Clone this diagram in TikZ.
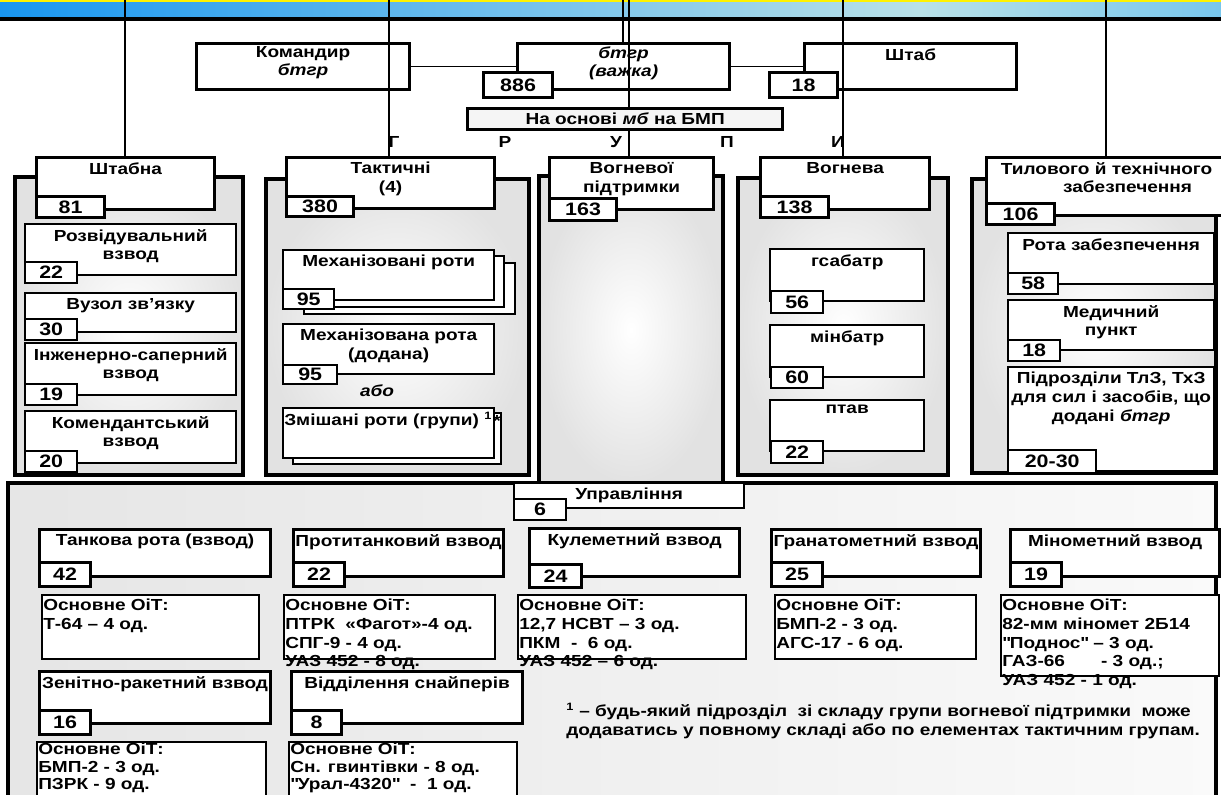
\documentclass[tikz,border=0pt]{standalone}
\usepackage{fontspec}
\setmainfont{Liberation Sans}[FakeStretch=1.19]
\newdimen\pxu \pxu=0.75pt
\definecolor{bannerA}{RGB}{25,150,240}
\definecolor{bannerB}{RGB}{185,225,232}
\definecolor{bannerC}{RGB}{120,198,236}
\definecolor{framegray}{RGB}{226,226,226}
\tikzset{
  txt/.style={font=\bfseries\fontsize{12}{14}\selectfont},
  wh/.style 2 args={minimum width=#1\pxu, minimum height=#2\pxu},
  box/.style={draw, fill=white, line width=1.8pt, anchor=north west, inner sep=0pt},
  hdr/.style={box, line width=2.4pt},
  oit/.style={box, line width=1.2pt},
  badge/.style={box, font=\bfseries\fontsize{13.5}{14}\selectfont},
  hbadge/.style={badge, line width=2.4pt},
  lbl/.style={anchor=north, align=center, inner sep=0pt, yshift=-6\pxu, txt},
  lbll/.style={anchor=north west, align=left, inner sep=0pt, xshift=2\pxu, yshift=-5\pxu, txt},
  lowlbl/.style={lbll, yshift=3\pxu, font=\bfseries\fontsize{12}{13}\selectfont},
  frame/.style={draw, line width=2.6pt, inner color=white, outer color=framegray},
  link/.style={line width=0.8pt},
}
\begin{document}
\begin{tikzpicture}[x=\pxu,y=-\pxu]
  \path[use as bounding box, clip] (0,0) rectangle (1221,794);
  \fill[white] (0,0) rectangle (1221,794);
  % banner
  \shade[left color=bannerA, right color=bannerB] (0,0) rectangle (920,17);
  \shade[left color=bannerB, right color=bannerC] (920,0) rectangle (1221,17);
  \fill[yellow] (0,0) rectangle (1221,1.5);
  \draw[line width=3pt] (0,19) -- (1221,19);

  % frames
  \path[frame] (15,177) rectangle (243,475);
  \path[frame] (266,179) rectangle (529,475);
  \path[frame] (539,176) rectangle (723,484);
  \path[frame] (738,178) rectangle (948,475);
  \path[frame] (972,179) rectangle (1216,473);
  \path[draw, line width=2.6pt, left color=black!10, right color=black!2] (8,483) rectangle (1216,810);

  % top
  \node[hdr, wh={213}{46}, label={[lbl,yshift=2\pxu]north:{Командир\\\textit{бтгр}}}] (komandyr) at (195,42) {};
  \node[hdr, wh={212}{46}, label={[lbl,yshift=2\pxu]north:{\textit{бтгр}\\\textit{(важка)}}}] (btgr) at (516,42) {};
  \node[hbadge, wh={69}{25}] (btgrN) at (482,71) {886};
  \node[hdr, wh={212}{46}, label={[lbl]north:Штаб}] (shtab) at (803,42) {};
  \node[hbadge, wh={68}{25}] (shtabN) at (768,71) {18};
  \draw[line width=1.1pt] (komandyr.east) -- (btgr.west);
  \draw[line width=1.1pt] (btgr.east) -- (shtab.west);
  \node[hdr, txt, fill=black!4, wh={315}{21}] (osnova) at (466,107) {На основі \textit{мб} на БМП};

  % group letters
  \node[txt] (grpG) at (394,142) {Г};
  \node[txt] (grpR) at (505,142) {Р};
  \node[txt] (grpU) at (616,142) {У};
  \node[txt] (grpP) at (727,142) {П};
  \node[txt] (grpY) at (838,142) {И};

  % Штабна
  \node[hdr, wh={178}{52}, label={[lbl]north:Штабна}] (shtabna) at (35,156) {};
  \node[hbadge, wh={68}{21}] (shtabnaN) at (35,195) {81};
  \node[box, wh={211}{51}, label={[lbl]north:{Розвідувальний\\взвод}}] (rozv) at (24,223) {};
  \node[badge, wh={52}{21}] (rozvN) at (24,261) {22};
  \node[box, wh={211}{39}, label={[lbl]north:Вузол зв’язку}] (vuzol) at (24,292) {};
  \node[badge, wh={52}{21}] (vuzolN) at (24,318) {30};
  \node[box, wh={211}{52}, label={[lbl]north:{Інженерно-саперний\\взвод}}] (inzh) at (24,342) {};
  \node[badge, wh={52}{21}] (inzhN) at (24,383) {19};
  \node[box, wh={211}{52}, label={[lbl]north:{Комендантський\\взвод}}] (komend) at (24,410) {};
  \node[badge, wh={52}{21}] (komendN) at (24,450) {20};

  % Тактичні
  \node[hdr, wh={208}{51}, label={[lbl]north:{Тактичні\\(4)}}] (taktychni) at (285,156) {};
  \node[hbadge, wh={67}{20}] (taktychniN) at (285,195) {380};
  \node[box, wh={211}{51}] (mech3) at (303,262) {};
  \node[box, wh={211}{51}] (mech2) at (292,255) {};
  \node[box, wh={211}{50}, label={[lbl]north:Механізовані роти}] (mech) at (282,249) {};
  \node[badge, wh={51}{20}] (mechN) at (282,288) {95};
  \node[box, wh={211}{50}, label={[lbl]north:{Механізована рота\\(додана)}}] (mechd) at (282,323) {};
  \node[badge, wh={54}{19}] (mechdN) at (282,364) {95};
  \node[txt, font=\bfseries\itshape\fontsize{12}{14}\selectfont] (abo) at (377,391) {або};
  \node[box, wh={208}{51}] (zmish2) at (292,412) {};
  \node[box, wh={211}{50}, label={[lbll]north west:Змішані роти (групи) \textsuperscript{1}}] (zmish) at (282,407) {};
  \node[txt] (zmishStar) at (497,421) {*};

  % Вогневої підтримки
  \node[hdr, wh={164}{52}, label={[lbl]north:{Вогневої\\підтримки}}] (vohnpid) at (548,156) {};
  \node[hbadge, wh={67}{22}] (vohnpidN) at (548,197) {163};

  % Вогнева
  \node[hdr, wh={169}{52}, label={[lbl]north:Вогнева}] (vohneva) at (759,156) {};
  \node[hbadge, wh={68}{21}] (vohnevaN) at (759,195) {138};
  \node[box, wh={154}{52}, label={[lbl]north:гсабатр}] (hsabatr) at (769,248) {};
  \node[badge, wh={52}{22}] (hsabatrN) at (770,290) {56};
  \node[box, wh={154}{52}, label={[lbl]north:мінбатр}] (minbatr) at (769,324) {};
  \node[badge, wh={52}{21}] (minbatrN) at (770,366) {60};
  \node[box, wh={154}{51}, label={[lbl]north:птав}] (ptav) at (769,399) {};
  \node[badge, wh={52}{22}] (ptavN) at (770,440) {22};

  % Тилового й технічного забезпечення
  \node[hdr, wh={240}{58}, label={[lbl]north:{Тилового й технічного\\\hspace*{42\pxu}забезпечення}}] (tyl) at (985,156) {};
  \node[hbadge, wh={68}{21}] (tylN) at (985,202) {106};
  \node[box, wh={206}{51}, label={[lbl]north:Рота забезпечення}] (rotazab) at (1007,232) {};
  \node[badge, wh={50}{21}] (rotazabN) at (1007,272) {58};
  \node[box, wh={206}{50}, label={[lbl]north:{Медичний\\пункт}}] (medpunkt) at (1007,299) {};
  \node[badge, wh={52}{21}] (medpunktN) at (1007,339) {18};
  \node[box, wh={206}{104}, label={[lbl]north:{Підрозділи ТлЗ, ТхЗ\\для сил і засобів, що\\додані \textit{бтгр}}}] (pidrozd) at (1007,366) {};
  \node[badge, wh={88}{23}] (pidrozdN) at (1007,449) {20-30};

  % Управління
  \node[box, txt, wh={230}{25}] (upr) at (513,482) {Управління};
  \node[badge, wh={52}{21}] (uprN) at (513,498) {6};

  % bottom units
  \node[hdr, wh={231}{47}, label={[lbl]north:Танкова рота (взвод)}] (tank) at (38,528) {};
  \node[hbadge, wh={51}{24}] (tankN) at (38,561) {42};
  \node[oit, wh={217}{64}, label={[lbll]north west:{Основне ОіТ:\\Т-64 – 4 од.}}] (tankO) at (41,594) {};

  \node[hdr, wh={210}{47}, label={[lbl]north:Протитанковий взвод}] (ptv) at (292,528) {};
  \node[hbadge, wh={51}{24}] (ptvN) at (292,561) {22};
  \node[oit, wh={211}{64}, label={[lbll]north west:{Основне ОіТ:\\ПТРК\ \ «Фагот»-4 од.\\СПГ-9 - 4 од.\\УАЗ 452 - 8 од.}}] (ptvO) at (283,594) {};

  \node[hdr, wh={210}{48}, label={[lbl]north:Кулеметний взвод}] (kulem) at (528,527) {};
  \node[hbadge, wh={52}{23}] (kulemN) at (528,563) {24};
  \node[oit, wh={228}{64}, label={[lbll]north west:{Основне ОіТ:\\12,7 НСВТ – 3 од.\\ПКМ\ \ -\ \ 6 од.\\УАЗ 452 – 6 од.}}] (kulemO) at (517,594) {};

  \node[hdr, wh={209}{47}, label={[lbl]north:Гранатометний взвод}] (hranat) at (770,528) {};
  \node[hbadge, wh={51}{24}] (hranatN) at (770,561) {25};
  \node[oit, wh={201}{64}, label={[lbll]north west:{Основне ОіТ:\\БМП-2 - 3 од.\\АГС-17 - 6 од.}}] (hranatO) at (774,594) {};

  \node[hdr, wh={209}{47}, label={[lbl]north:Мінометний взвод}] (minom) at (1009,528) {};
  \node[hbadge, wh={51}{24}] (minomN) at (1009,561) {19};
  \node[oit, wh={218}{81}, label={[lbll]north west:{Основне ОіТ:\\82-мм міномет 2Б14\\\textquotedbl Поднос\textquotedbl{} – 3 од.\\ГАЗ-66\hspace{36\pxu}- 3 од.;\\УАЗ 452 - 1 од.}}] (minomO) at (1000,594) {};

  \node[hdr, wh={231}{52}, label={[lbl]north:Зенітно-ракетний взвод}] (zenit) at (38,670) {};
  \node[hbadge, wh={51}{24}] (zenitN) at (38,709) {16};
  \node[oit, wh={229}{60}, label={[lowlbl]north west:{Основне ОіТ:\\БМП-2 - 3 од.\\ПЗРК - 9 од.}}] (zenitO) at (36,741) {};

  \node[hdr, wh={231}{52}, label={[lbl]north:Відділення снайперів}] (snaip) at (290,670) {};
  \node[hbadge, wh={50}{24}] (snaipN) at (290,709) {8};
  \node[oit, wh={228}{60}, label={[lowlbl]north west:{Основне ОіТ:\\Сн. гвинтівки - 8 од.\\\textquotedbl Урал-4320\textquotedbl\ \ -\ \ 1 од.}}] (snaipO) at (288,741) {};

  \node[txt, anchor=north west, align=left, inner sep=0pt] (note) at (566,703) {\textsuperscript{1} – будь-який підрозділ\ \ зі складу групи вогневої підтримки\ \ може\\додаватись у повному складі або по елементах тактичним групам.};

  % links from the top
  \coordinate (top1) at (125,0);
  \coordinate (top2) at (389,0);
  \coordinate (top3) at (623,0);
  \coordinate (top4) at (629,0);
  \coordinate (top5) at (843,0);
  \coordinate (top6) at (1106,0);
  \draw[link] (top1) -- (top1 |- shtabna.north);
  \draw[link] (top2) -- (top2 |- taktychni.north);
  \draw[link] (top3) -- (top3 |- btgr.north);
  \draw[link] (top4) -- (top4 |- osnova.north);
  \draw[link] (top5) -- (top5 |- vohneva.north);
  \draw[link] (top6) -- (top6 |- tyl.north);
  \draw[link] (top4 |- osnova.south) -- (top4 |- vohnpid.north);
\end{tikzpicture}
\end{document}
